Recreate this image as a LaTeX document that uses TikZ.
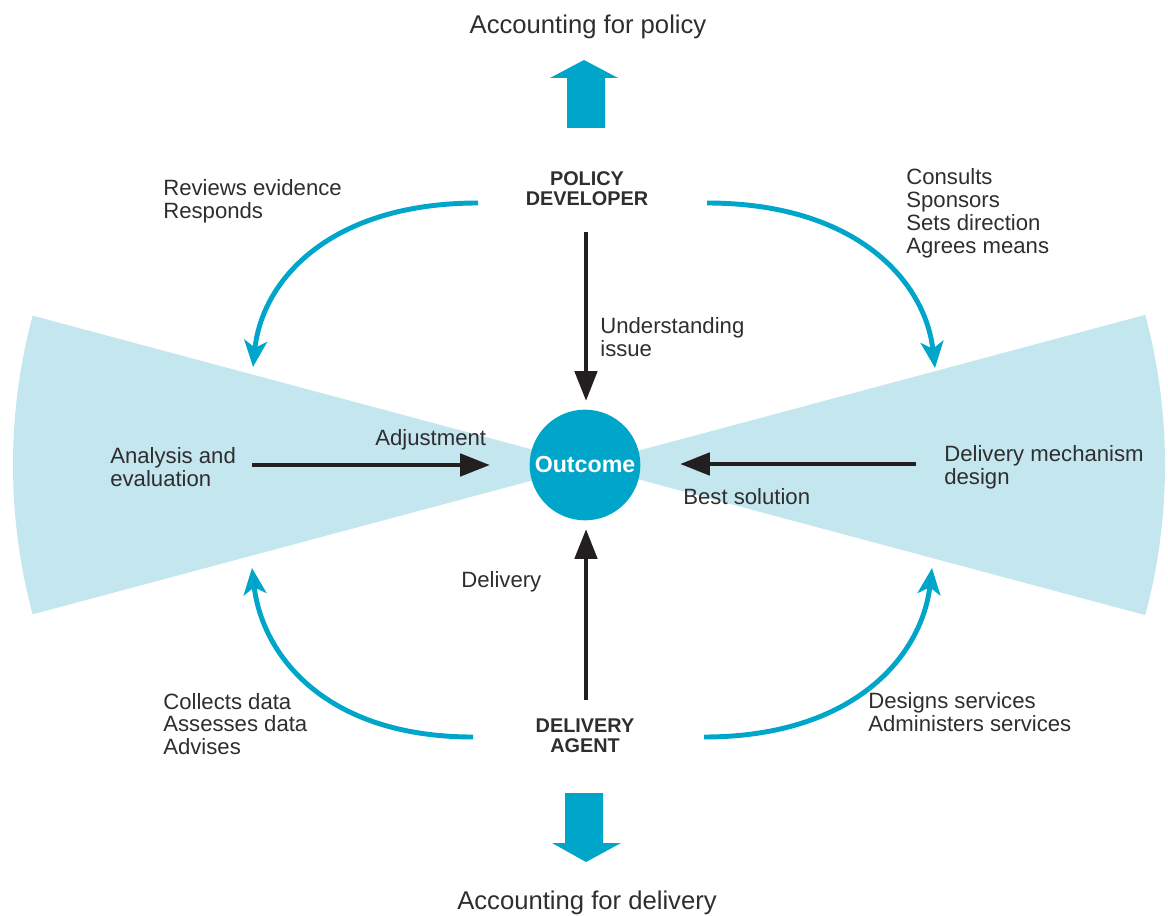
\documentclass[tikz,border=0pt]{standalone}
\usepackage{fontspec}
\setmainfont{Liberation Sans}
\usetikzlibrary{arrows.meta}
\definecolor{fanblue}{HTML}{C4E6EE}
\definecolor{brandblue}{HTML}{00A5CA}
\definecolor{ink}{HTML}{2E2E2E}
\definecolor{arrowblk}{HTML}{231F20}
\begin{document}
\begin{tikzpicture}[x=0.02cm,y=-0.02cm,
  lbl/.style={text=ink, font=\fontsize{12.6}{13}\selectfont, align=left, anchor=west, inner sep=0pt},
  role/.style={text=ink, font=\fontsize{11.3}{11.4}\selectfont\bfseries, align=center, inner sep=0pt},
  heading/.style={text=ink, font=\fontsize{14.6}{16}\selectfont, inner sep=0pt},
  flow/.style={draw=brandblue, line width=2.8pt, -{Stealth[length=15pt,width=13pt,inset=4pt]}},
  push/.style={draw=arrowblk, line width=2.8pt, -{Triangle[length=17pt,width=12.5pt]}}]
\useasboundingbox (0,0) rectangle (1168,915);

% the two light-blue fans meeting at the outcome
\fill[fanblue] (590,465) -- ++(165:577) arc[start angle=165, end angle=195, radius=577] -- cycle;
\fill[fanblue] (585,465) -- ++(-15:580) arc[start angle=-15, end angle=15, radius=580] -- cycle;

% central outcome
\node[circle, fill=brandblue, minimum size=63pt, inner sep=0pt, text=white,
      font=\fontsize{13.2}{14}\selectfont\bfseries] (out) at (585,465) {Outcome};

% headings and roles
\node[heading] (acp) at (588,27) {Accounting for policy};
\node[heading] (acd) at (587,903) {Accounting for delivery};
\node[role] (pd) at (587,189) {POLICY\\DEVELOPER};
\node[role] (da) at (585,736) {DELIVERY\\AGENT};

% block arrows
\fill[brandblue] (567,128) -- (567,78) -- (550,78) -- (584,60) -- (618,78) -- (605,78) -- (605,128) -- cycle;
\fill[brandblue] (565,793) -- (603,793) -- (603,843) -- (621,843) -- (586,862) -- (552,843) -- (565,843) -- cycle;

% labels
\node[lbl] (rev) at (163,201.5) {Reviews evidence\\Responds};
\node[lbl] (con) at (906,213.5) {Consults\\Sponsors\\Sets direction\\Agrees means};
\node[lbl] (und) at (600,337) {Understanding\\issue};
\node[lbl] (ana) at (110,467.5) {Analysis and\\evaluation};
\node[lbl] (adj) at (375,440) {Adjustment};
\node[lbl] (dmd) at (944,467.5) {Delivery mechanism\\design};
\node[lbl] (best) at (683,497) {Best solution};
\node[lbl] (dlv) at (461,582) {Delivery};
\node[lbl] (col) at (163,724) {Collects data\\Assesses data\\Advises};
\node[lbl] (des) at (868,712) {Designs services\\Administers services};

% straight black connectors
\coordinate (pdOut) at (586,232);
\coordinate (outTop) at (586,401);
\coordinate (daOut) at (586,700);
\coordinate (outBot) at (586,529);
\coordinate (anaOut) at (252,465);
\coordinate (outLeft) at (490,465);
\coordinate (dmdOut) at (916,464);
\coordinate (outRight) at (680,464);
\draw[push] (pdOut) -- (outTop);
\draw[push] (daOut) -- (outBot);
\draw[push] (anaOut) -- (outLeft);
\draw[push] (dmdOut) -- (outRight);

% curved blue connectors
\coordinate (pdL) at (478,203);
\coordinate (pdR) at (707,203);
\coordinate (daL) at (473,737);
\coordinate (daR) at (704,737);
\coordinate (fanTL) at (253,367);
\coordinate (fanTR) at (935,368);
\coordinate (fanBL) at (252,568);
\coordinate (fanBR) at (932,568);
\draw[flow] (pdL) .. controls (330,203) and (262,280) .. (fanTL);
\draw[flow] (pdR) .. controls (855,203) and (925,280) .. (fanTR);
\draw[flow] (daL) .. controls (325,737) and (262,655) .. (fanBL);
\draw[flow] (daR) .. controls (855,737) and (922,655) .. (fanBR);
\end{tikzpicture}
\end{document}
